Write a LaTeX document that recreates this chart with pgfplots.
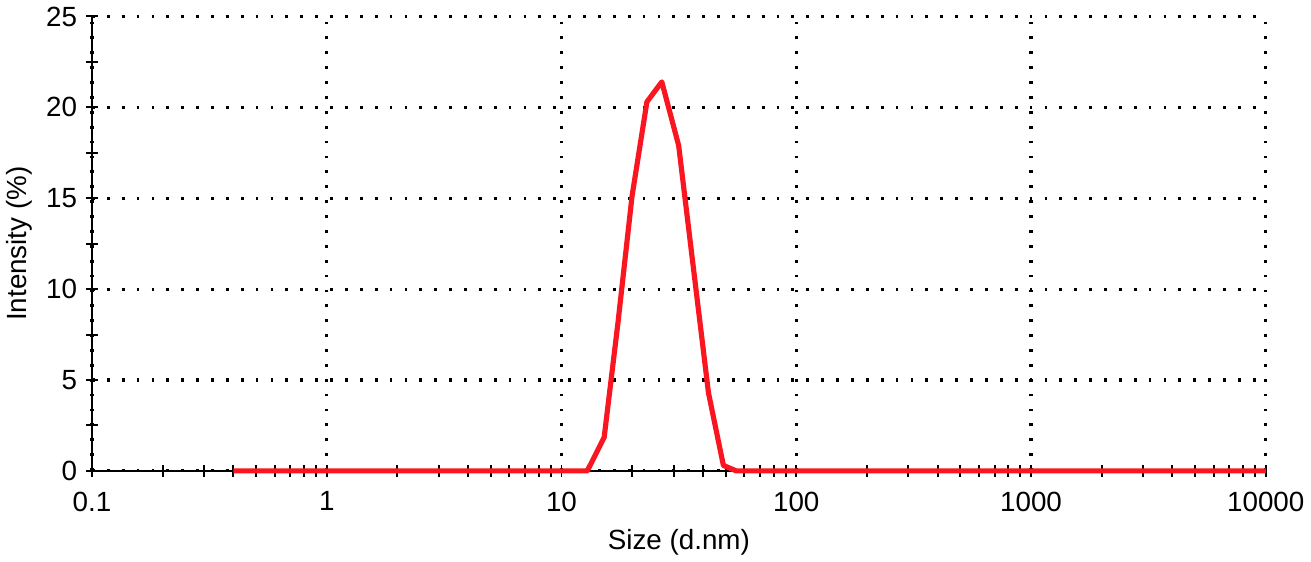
\documentclass[border=0pt]{standalone}
\usepackage{fontspec}
\setmainfont{Liberation Sans}
\usepackage{pgfplots}
\pgfplotsset{compat=1.18}
\definecolor{dlsred}{RGB}{250,22,32}

\begin{document}
\begin{tikzpicture}
\begin{axis}[
  scale only axis,
  width=591.5pt, height=229pt,
  xmode=log,
  xmin=0.1, xmax=10000,
  ymin=0, ymax=25,
  axis x line=bottom, axis y line=left,
  axis line style={-, line width=1.2pt, black},
  xtick={0.1,1,10,100,1000,10000},
  xticklabels={0.1,1,10,100,1000,10000},
  ytick={0,5,10,15,20,25},
  minor y tick num=1,
  tick align=center,
  major tick length=6pt, minor tick length=6pt,
  tick style={black, line width=1pt},
  grid=major,
  major grid style={black, line width=1.6pt, dash pattern=on 1.4pt off 6.1pt},
  /pgf/number format/assume math mode=true,
  tick label style={font=\fontsize{14}{16}\selectfont},
  label style={font=\fontsize{14}{16}\selectfont},
  xticklabel style={yshift=-4pt},
  yticklabel style={xshift=-1pt},
  xlabel={Size (d.nm)},
  ylabel={Intensity (\%)},
  xlabel style={yshift=-2pt},
  clip=false,
]
  \addplot[dlsred, line width=2.6pt, line join=round] coordinates {
    (0.4,0) (12.88,0) (15.2,1.85) (17.42,8.2) (19.97,15.1)
    (23.11,20.3) (26.75,21.4) (31.56,17.9) (36.52,11.1)
    (42.27,4.3) (48.93,0.3) (55.54,0) (10000,0)
  };
\end{axis}
\end{tikzpicture}
\end{document}
